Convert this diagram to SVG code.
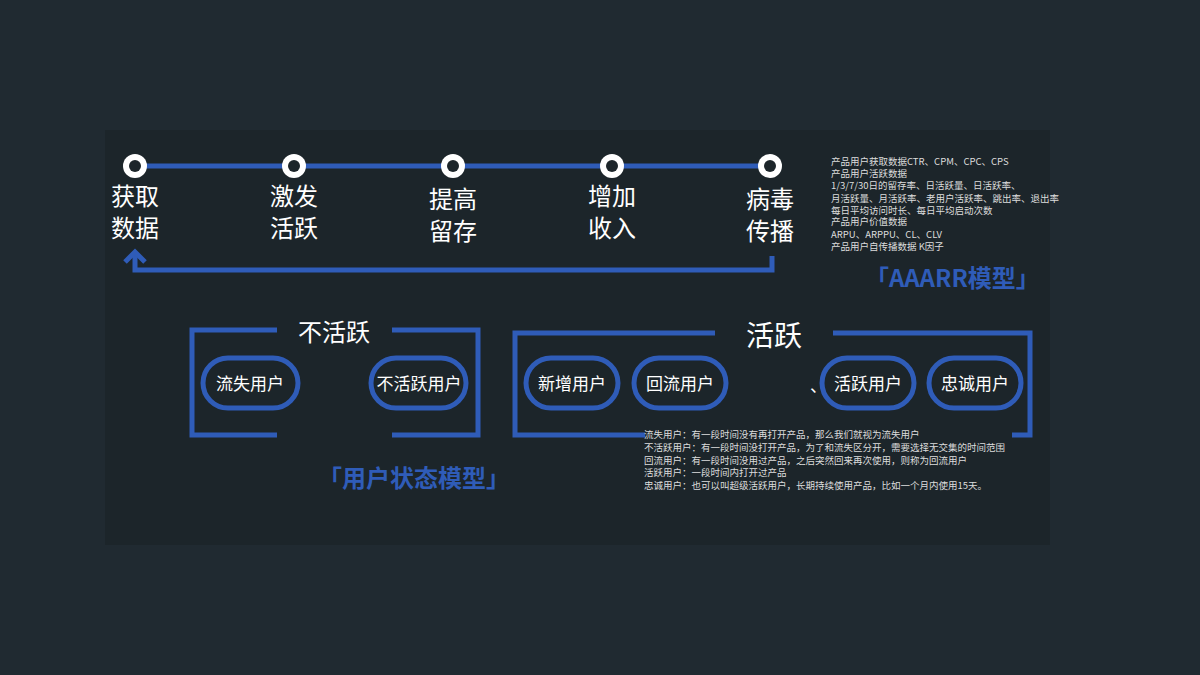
<svg xmlns="http://www.w3.org/2000/svg" width="1200" height="675" viewBox="0 0 1200 675">
<style>
.w{fill:#fff;font-family:"Noto Sans CJK SC","Liberation Sans",sans-serif}
.big{font-size:24px}
.pill{fill:none;stroke:#2f5cb8;stroke-width:5}
.ln{fill:none;stroke:#2f5cb8;stroke-width:5}
.sm{font-size:9.5px;fill:#ddd;font-family:"Noto Sans CJK SC",sans-serif}
.ttl{fill:#2f5cb8;font-size:24px;font-weight:bold;font-family:"Noto Sans CJK SC",sans-serif}
</style>
<rect width="1200" height="675" fill="#202a31"/>
<rect x="105" y="130" width="945" height="415" fill="#1c252a"/>
<g id="connectors">
<line class="ln" x1="135" y1="166" x2="770" y2="166"/>
<polyline class="ln" points="772,256 772,270 135,270 135,252"/>
<polyline class="ln" points="125,262 135,252 145,262"/>
<polyline class="ln" points="277,330 192,330 192,435 277,435"/>
<polyline class="ln" points="392,330 478,330 478,435 392,435"/>
<polyline class="ln" points="715,333 515,333 515,435 645,435"/>
<polyline class="ln" points="833,333 1030,333 1030,435 1012,435"/>
</g>
<g id="steps">
<g>
<circle cx="135" cy="166" r="12" fill="#fff"/><circle cx="135" cy="166" r="6" fill="#1c252a"/>
<circle cx="294" cy="166" r="12" fill="#fff"/><circle cx="294" cy="166" r="6" fill="#1c252a"/>
<circle cx="453" cy="166" r="12" fill="#fff"/><circle cx="453" cy="166" r="6" fill="#1c252a"/>
<circle cx="612" cy="166" r="12" fill="#fff"/><circle cx="612" cy="166" r="6" fill="#1c252a"/>
<circle cx="770" cy="166" r="12" fill="#fff"/><circle cx="770" cy="166" r="6" fill="#1c252a"/>
</g>
<g class="w big" text-anchor="middle">
<text x="135" y="205">获取</text><text x="135" y="237">数据</text>
<text x="294" y="205">激发</text><text x="294" y="237">活跃</text>
<text x="453" y="208">提高</text><text x="453" y="240">留存</text>
<text x="612" y="205">增加</text><text x="612" y="237">收入</text>
<text x="770" y="208">病毒</text><text x="770" y="240">传播</text>
</g>
</g>
<g id="aaarr-notes" class="sm">
<text x="831" y="165">产品用户获取数据CTR、CPM、CPC、CPS</text>
<text x="831" y="177">产品用户活跃数据</text>
<text x="831" y="189">1/3/7/30日的留存率、日活跃量、日活跃率、</text>
<text x="831" y="202">月活跃量、月活跃率、老用户活跃率、跳出率、退出率</text>
<text x="831" y="214">每日平均访问时长、每日平均启动次数</text>
<text x="831" y="225">产品用户价值数据</text>
<text x="831" y="238">ARPU、ARPPU、CL、CLV</text>
<text x="831" y="250">产品用户自传播数据 K因子</text>
</g>
<text id="aaarr-title" class="ttl" x="865" y="287">「AAARR模型」</text>
<g id="inactive-label"><text class="w big" x="334" y="341" text-anchor="middle">不活跃</text></g>
<g id="active-label"><text class="w" font-size="28" x="774" y="346" text-anchor="middle">活跃</text></g>
<g id="n1"><rect class="pill" x="203" y="358" width="95" height="50" rx="25"/><text class="w" font-size="17" x="250" y="390" text-anchor="middle">流失用户</text></g>
<g id="n2"><rect class="pill" x="371" y="358" width="95" height="50" rx="25"/><text class="w" font-size="17" x="419" y="390" text-anchor="middle">不活跃用户</text></g>
<g id="n3"><rect class="pill" x="526" y="358" width="92" height="50" rx="25"/><text class="w" font-size="17" x="572" y="390" text-anchor="middle">新增用户</text></g>
<g id="n4"><rect class="pill" x="634" y="358" width="92" height="50" rx="25"/><text class="w" font-size="17" x="680" y="390" text-anchor="middle">回流用户</text></g>
<text class="w" font-size="17" x="810" y="392">、</text>
<g id="n5"><rect class="pill" x="822" y="358" width="92" height="50" rx="25"/><text class="w" font-size="17" x="868" y="390" text-anchor="middle">活跃用户</text></g>
<g id="n6"><rect class="pill" x="929" y="358" width="92" height="50" rx="25"/><text class="w" font-size="17" x="975" y="390" text-anchor="middle">忠诚用户</text></g>
<g id="state-notes" class="sm">
<text x="644" y="438">流失用户：有一段时间没有再打开产品，那么我们就视为流失用户</text>
<text x="644" y="451">不活跃用户：有一段时间没打开产品，为了和流失区分开，需要选择无交集的时间范围</text>
<text x="644" y="464">回流用户：有一段时间没用过产品，之后突然回来再次使用，则称为回流用户</text>
<text x="644" y="476">活跃用户：一段时间内打开过产品</text>
<text x="644" y="489">忠诚用户：也可以叫超级活跃用户，长期持续使用产品，比如一个月内使用15天。</text>
</g>
<text id="state-title" class="ttl" x="318" y="487">「用户状态模型」</text>
</svg>
